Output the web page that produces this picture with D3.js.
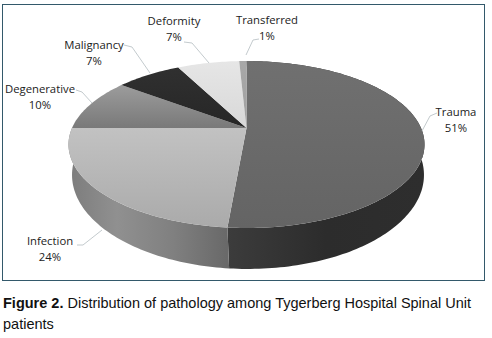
<!DOCTYPE html>
<html><head><meta charset="utf-8">
<script src="https://cdn.jsdelivr.net/npm/d3@7/dist/d3.min.js"></script>
<style>html,body{margin:0;padding:0;background:#fff}svg{display:block}</style></head>
<body><svg id="c" width="492" height="338"></svg>
<script>
const categories = ["Trauma","Infection","Degenerative","Malignancy","Deformity","Transferred"];
const shares = [51.4,23.6,10.2,7.2,6.8,0.8];
const labelX = [456,50,40,94,174,267];
const labelY = [112,241,89,45,21,20];
const topColors = [["#707070","#646464"],["#c2c2c2","#aaaaaa"],["#9c9c9c","#797979"],["#303030","#262626"],["#e6e6e6","#d8d8d8"],["#a8a8a8","#a0a0a0"]];
const wallColors = [["#3c3c3c","#2c2c2c","#2e2e2e"],["#7c7c7c","#909090","#808080","#686868"]];
const wallOffsets = [[0,0.5,1],[0,0.3,0.65,1]];
const leaders = [[[437,113],[430,116],[422,131]],[[77,245],[83,245],[102,230]],[[76,90],[82,92],[92,103]],[[124,45],[132,47],[150,73]],[[184,42],[192,43],[209,63]],[[259,39],[253,40],[246,55]]];
const captionLines = [["Figure 2."," Distribution of pathology among Tygerberg Hospital Spinal Unit"],["","patients"]];

const svg = d3.select("#c"), defs = svg.append("defs");
const topRim={cx:246.5,cy:128,a:80.2,b:174.5}, baseRim={cx:248,cy:156.4,a:90.3,b:172.5}, k=0.1976;
const project=(t,r)=>{const u=Math.sin(t),v=-Math.cos(t),w=1-k*v;return [r.cx+r.b*u/w,r.cy+r.a*v/w];};
const arcs=d3.pie().sort(null).startAngle(0).endAngle(2*Math.PI)(shares);
const samples=(s,e)=>{const n=Math.max(2,Math.ceil((e-s)/0.02));return d3.range(n+1).map(i=>s+(e-s)*i/n);};
const line=d3.line();

svg.append("rect").attr("x",2.5).attr("y",4.5).attr("width",482).attr("height",276)
  .attr("fill","#fff").attr("stroke","#33596b").attr("stroke-width",1);

function grad(id,stops,vertical,box,offs){
  const g=defs.append("linearGradient").attr("id",id).attr("gradientUnits","userSpaceOnUse")
    .attr("x1",box[0]).attr("y1",box[1]).attr("x2",vertical?box[0]:box[2]).attr("y2",vertical?box[3]:box[1]);
  stops.forEach((c,i)=>g.append("stop").attr("offset",offs?offs[i]:i/(stops.length-1)).attr("stop-color",c));
}
[0,1].forEach(i=>{
  const d=arcs[i], ts=samples(d.startAngle,d.endAngle);
  const pts=ts.map(t=>project(t,topRim)).concat(ts.slice().reverse().map(t=>project(t,baseRim)));
  const xs=d3.extent(pts,p=>p[0]);
  grad("w"+i,wallColors[i],false,[xs[0],0,xs[1],0],wallOffsets[i]);
  svg.append("path").attr("d",line(pts)+"Z").attr("fill",`url(#w${i})`);
});
arcs.forEach((d,i)=>{
  const pts=[[topRim.cx,topRim.cy]].concat(samples(d.startAngle,d.endAngle).map(t=>project(t,topRim)));
  const ys=d3.extent(pts,p=>p[1]);
  grad("t"+i,topColors[i],true,[0,ys[0],0,ys[1]]);
  svg.append("path").attr("d",line(pts)+"Z").attr("fill",`url(#t${i})`);
});
leaders.forEach(l=>svg.append("path").attr("d",line(l)).attr("fill","none").attr("stroke","#b4bcc0").attr("stroke-width",0.8));
const fmt=d3.format(".0f");
categories.forEach((c,i)=>{
  const t=svg.append("text").attr("text-anchor","middle").attr("font-family","'Open Sans',sans-serif").attr("font-size",11.3).attr("fill","#222");
  t.append("tspan").attr("x",labelX[i]).attr("y",labelY[i]+4).text(c);
  t.append("tspan").attr("x",labelX[i]).attr("y",labelY[i]+20).text(fmt(shares[i])+"%");
});
captionLines.forEach((l,i)=>{
  const t=svg.append("text").attr("x",3).attr("y",308+i*21).attr("font-family","'Liberation Sans',Arial,sans-serif").attr("font-size",14.5).attr("fill","#111");
  if(l[0])t.append("tspan").attr("font-weight","bold").text(l[0]);
  t.append("tspan").text(l[1]);
});
</script></body></html>
